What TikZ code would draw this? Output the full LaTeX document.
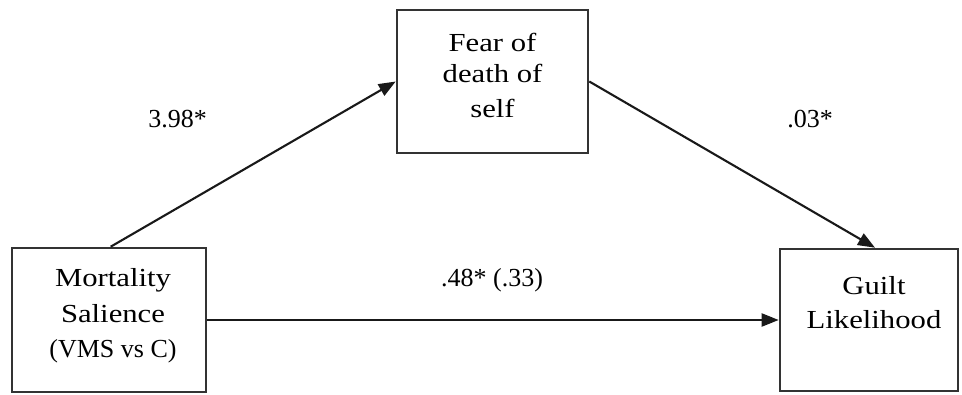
\documentclass[tikz,border=0pt]{standalone}
\usepackage{fontspec}
\setmainfont{Liberation Serif}
\newfontfamily\widefont[FakeStretch=1.18]{Liberation Serif}
\usetikzlibrary{arrows.meta,calc}
\begin{document}
\begin{tikzpicture}[x=1pt,y=1pt,
  boxnode/.style={draw=black!80,line width=2.6pt,rectangle,inner sep=0pt},
  boxtext/.style={font=\widefont\fontsize{26}{34}\selectfont,anchor=base,inner sep=0pt},
  smalltext/.style={font=\fontsize{26}{34}\selectfont,anchor=base,inner sep=0pt},
  coef/.style={font=\fontsize{26}{30}\selectfont,anchor=base,inner sep=0pt},
  conn/.style={draw=black!90,line width=2.1pt,-{Triangle[length=17pt,width=13pt]}}]
\useasboundingbox (0,0) rectangle (962,394);
% boxes
\node[boxnode,minimum width=194pt,minimum height=144pt] (L) at (109,74) {};
\node[boxnode,minimum width=191pt,minimum height=143pt] (T) at (492.5,312.5) {};
\node[boxnode,minimum width=178pt,minimum height=142pt] (R) at (869,74) {};
% box texts
\node[boxtext] (l1) at (113,107) {Mortality};
\node[boxtext] (l2) at (113,71) {Salience};
\node[smalltext] (l3) at (113,37) {(VMS vs C)};
\node[boxtext] (t1) at (492.5,342) {Fear of};
\node[boxtext] (t2) at (492.5,311) {death of};
\node[boxtext] (t3) at (492.5,276) {self};
\node[boxtext] (r1) at (874,99) {Guilt};
\node[boxtext] (r2) at (874,66) {Likelihood};
% coefficient labels
\node[coef] (c1) at (177.5,266) {3.98*};
\node[coef] (c2) at (810,266) {.03*};
\node[coef] (c3) at (492,107) {.48* (.33)};
% connectors
\coordinate (a1s) at ($(L.north west)+(100,0)$);
\coordinate (a2e) at ($(R.north)+(6,0)$);
\draw[conn] (a1s) -- (T.west);
\draw[conn] (T.east) -- (a2e);
\draw[conn] (L.east) -- (R.west);
\end{tikzpicture}
\end{document}
